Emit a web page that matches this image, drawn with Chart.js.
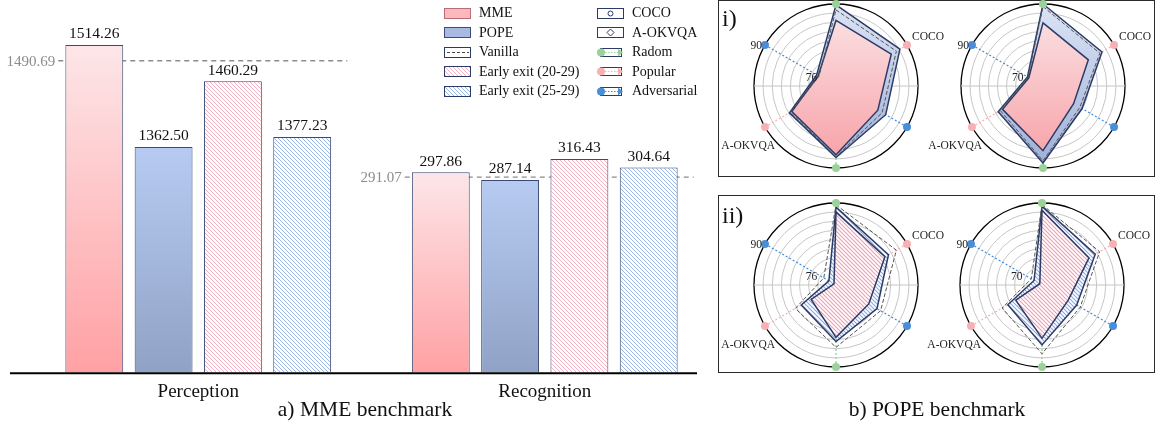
<!DOCTYPE html>
<html>
<head>
<meta charset="utf-8">
<title>MME / POPE benchmark</title>
<script src="https://cdn.jsdelivr.net/npm/chart.js@4.4.1/dist/chart.umd.min.js"></script>
<style>
  body { margin: 0; width: 1156px; height: 427px; overflow: hidden; background: #fff;
         font-family: 'Liberation Serif', 'Times New Roman', serif; position: relative; color: #111; }
  canvas { position: absolute; }
  .panel { position: absolute; border: 1.5px solid #2b2b2b; box-sizing: border-box; }
  .tag { position: absolute; font-size: 24px; line-height: 1; }
  .title { position: absolute; font-size: 21.5px; line-height: 1; white-space: nowrap; transform: translateX(-50%); }
  .legend { position: absolute; left: 443px; top: 3px; width: 270px; height: 100px; font-size: 14px; }
  .legend .item { position: absolute; display: flex; align-items: center; height: 20px; white-space: nowrap; }
  .legend svg { margin-right: 8px; }
</style>
</head>
<body>
<canvas id="barChart" width="720" height="411" style="left:0;top:0"></canvas>
<div class="legend" id="legend"></div>

<div class="panel" style="left:718px;top:0;width:437px;height:177px"></div>
<div class="panel" style="left:718px;top:195px;width:437px;height:178px"></div>
<canvas id="radarI1" width="240" height="180" style="left:716px;top:-4px"></canvas>
<canvas id="radarI2" width="240" height="180" style="left:923px;top:-4px"></canvas>
<canvas id="radarII1" width="240" height="180" style="left:716px;top:195px"></canvas>
<canvas id="radarII2" width="240" height="180" style="left:922px;top:195px"></canvas>
<div class="tag" style="left:722px;top:6px">i)</div>
<div class="tag" style="left:722px;top:203px">ii)</div>

<div class="title" style="left:365px;top:399px">a) MME benchmark</div>
<div class="title" style="left:937px;top:399px">b) POPE benchmark</div>

<script>
// ---- data ----
const groups = ['Perception', 'Recognition'];
const seriesNames = ['MME', 'POPE', 'Early exit (20-29)', 'Early exit (25-29)'];
const perception = [1514.26, 1362.50, 1460.29, 1377.23];
const recognition = [297.86, 287.14, 316.43, 304.64];
const vanillaRef = [1490.69, 291.07];

const radarAxes = ['COCO Radom', 'COCO Popular', 'COCO Adversarial',
                   'A-OKVQA Radom', 'A-OKVQA Popular', 'A-OKVQA Adversarial'];
const datasetNames = ['COCO', 'A-OKVQA'];
const splitNames = ['Radom', 'Popular', 'Adversarial'];
const spokeEnds = [90, 90, 90, 90, 90, 90];
const radarMins = [72, 64, 72, 64];
const radarMarks = [76, 70, 76, 70];

// panel i) MME vs POPE
const vanillaI1 = [88.7, 87.3, 83.7, 87.5, 83.5, 76.3];
const mmeI1 = [86.4, 86.0, 82.6, 87.1, 83.2, 76.5];
const popeI1 = [89.8, 88.2, 84.6, 87.7, 83.8, 76.9];
const vanillaI2 = [89.2, 84.8, 77.5, 87.7, 79.6, 69.5];
const mmeI2 = [84.0, 80.6, 75.2, 84.5, 78.8, 69.2];
const popeI2 = [90.0, 85.6, 78.3, 88.4, 80.4, 69.7];
// panel ii) early exit
const vanillaII1 = [89.6, 87.3, 83.3, 85.7, 82.3, 75.1];
const ee20II1 = [88.0, 84.4, 80.3, 83.5, 78.3, 72.5];
const ee25II1 = [89.1, 85.3, 82.4, 84.4, 80.8, 73.8];
const vanillaII2 = [89.5, 85.1, 78.0, 85.8, 78.6, 67.9];
const ee20II2 = [87.7, 81.2, 73.6, 80.9, 73.6, 64.8];
const ee25II2 = [89.0, 83.5, 76.7, 83.0, 76.5, 66.9];

const NAVY = '#2c3b66';
const SPOKE_COLORS = ['#9ad29a', '#f7b1b4', '#4a8ed8', '#9ad29a', '#f7b1b4', '#4a8ed8'];
const SERIF = "'Liberation Serif', 'Times New Roman', serif";
const PINK_HATCH = '#f4b3c3';
const BLUE_HATCH = '#9bb7e8';
const PINK_STROKE = '#ef9cb4';
const BLUE_STROKE = '#86a8e6';

Chart.defaults.font.family = SERIF;
Chart.defaults.color = '#111';

// ---- fills ----
function hatchTile(color, size) {
    const t = document.createElement('canvas');
    t.width = size; t.height = size;
    const g = t.getContext('2d');
    g.fillStyle = '#fff';
    g.fillRect(0, 0, size, size);
    g.strokeStyle = color;
    g.lineWidth = 1;
    g.beginPath();
    for (let k = -size; k <= size; k += size) {
        g.moveTo(k - 1, -1);
        g.lineTo(k + size + 1, size + 1);
    }
    g.stroke();
    return t;
}
const pinkTile = hatchTile(PINK_HATCH, 4);
const blueTile = hatchTile(BLUE_HATCH, 4);

function hatch(tile) {
    return c => c.chart.ctx.createPattern(tile, 'repeat');
}

function barGradient(topColor, bottomColor) {
    return c => {
        const chart = c.chart;
        if (!chart.chartArea || c.raw == null) return bottomColor;
        const scale = chart.scales[c.dataset.yAxisID];
        const g = chart.ctx.createLinearGradient(0, scale.getPixelForValue(c.raw), 0, scale.getPixelForValue(scale.min));
        g.addColorStop(0, topColor);
        g.addColorStop(1, bottomColor);
        return g;
    };
}

function areaGradient(topColor, bottomColor) {
    return c => {
        const ca = c.chart.chartArea;
        if (!ca) return bottomColor;
        const g = c.chart.ctx.createLinearGradient(0, ca.top, 0, ca.bottom);
        g.addColorStop(0, topColor);
        g.addColorStop(1, bottomColor);
        return g;
    };
}

// ---- bar chart ----
const barFills = [
    barGradient('#fde6e8', '#ffa1a4'),
    barGradient('#b7caf1', '#90a3c6'),
    hatch(pinkTile),
    hatch(blueTile)
];

const barDatasets = [];
[perception, recognition].forEach((values, g) => {
    values.forEach((v, s) => {
        barDatasets.push({
            label: seriesNames[s],
            data: g === 0 ? [v, null] : [null, v],
            yAxisID: g === 0 ? 'y' : 'y2',
            backgroundColor: barFills[s],
            borderColor: '#3a4a74',
            borderWidth: 1,
            skipNull: true,
            categoryPercentage: 0.8,
            barPercentage: 0.835
        });
    });
});

// dashed "vanilla" reference lines, drawn behind the bars
const refLines = {
    id: 'refLines',
    beforeDatasetsDraw(chart) {
        const { ctx, scales } = chart;
        const x = scales.x;
        const cw = (x.right - x.left) / groups.length;
        ctx.save();
        ctx.strokeStyle = '#8c8c8c';
        ctx.fillStyle = '#8c8c8c';
        ctx.lineWidth = 1.3;
        ctx.setLineDash([5, 4]);
        ctx.font = '15px ' + SERIF;
        ctx.textAlign = 'right';
        ctx.textBaseline = 'middle';
        vanillaRef.forEach((v, i) => {
            const y = scales[i === 0 ? 'y' : 'y2'].getPixelForValue(v);
            const cx = x.getPixelForValue(i);
            const x0 = cx - 0.404 * cw;
            const x1 = cx + 0.43 * cw;
            ctx.beginPath();
            ctx.moveTo(x0, y);
            ctx.lineTo(x1, y);
            ctx.stroke();
            ctx.fillText(v.toFixed(2), x0 - 3, y + 1);
        });
        ctx.restore();
    }
};

// numbers on top of the bars + the black base line
const barLabels = {
    id: 'barLabels',
    afterDatasetsDraw(chart) {
        const ctx = chart.ctx;
        ctx.save();
        ctx.font = '15.5px ' + SERIF;
        ctx.fillStyle = '#111';
        ctx.textAlign = 'center';
        ctx.textBaseline = 'bottom';
        chart.data.datasets.forEach((ds, i) => {
            chart.getDatasetMeta(i).data.forEach((bar, j) => {
                if (ds.data[j] == null) return;
                ctx.fillText(ds.data[j].toFixed(2), bar.x, bar.y - 3);
            });
        });
        const yb = chart.chartArea.bottom + 1;
        ctx.strokeStyle = '#000';
        ctx.lineWidth = 2;
        ctx.beginPath();
        ctx.moveTo(10, yb);
        ctx.lineTo(697, yb);
        ctx.stroke();
        ctx.restore();
    }
};

new Chart(document.getElementById('barChart'), {
    type: 'bar',
    data: { labels: groups, datasets: barDatasets },
    options: {
        responsive: false,
        animation: false,
        layout: { padding: { left: 25, right: 2, top: 20, bottom: 0 } },
        plugins: { legend: { display: false }, tooltip: { enabled: false } },
        scales: {
            x: {
                grid: { display: false, drawTicks: false },
                border: { display: false },
                ticks: { color: '#111', font: { size: 19 }, padding: 8 }
            },
            y: { type: 'linear', display: false, min: 1027.6, max: 1551.3, beginAtZero: false },
            y2: { type: 'linear', display: false, min: 18.4, max: 510.7, beginAtZero: false }
        }
    },
    plugins: [refLines, barLabels]
});

// ---- radar charts ----
// hatched polygons for panel ii): white fill clipped to the polygon, then diagonal strokes
const radarHatch = {
    id: 'radarHatch',
    beforeDatasetDraw(chart, args) {
        const ds = chart.data.datasets[args.index];
        if (!ds.hatchColor) return;
        const ctx = chart.ctx;
        ctx.save();
        ctx.setLineDash([]);
        ctx.beginPath();
        args.meta.data.forEach((p, i) => i ? ctx.lineTo(p.x, p.y) : ctx.moveTo(p.x, p.y));
        ctx.closePath();
        ctx.fillStyle = '#fff';
        ctx.fill();
        ctx.clip();
        ctx.strokeStyle = ds.hatchColor;
        ctx.lineWidth = 1.1;
        ctx.beginPath();
        for (let k = -chart.height; k < chart.width; k += 4) {
            ctx.moveTo(k, 0);
            ctx.lineTo(k + chart.height, chart.height);
        }
        ctx.stroke();
        ctx.restore();
    }
};

const radarExtras = {
    id: 'radarExtras',
    beforeDatasetsDraw(chart) {
        const r = chart.scales.r;
        const ctx = chart.ctx;
        ctx.save();
        ctx.setLineDash([]);
        ctx.strokeStyle = '#c4c4c4';
        ctx.lineWidth = 1;
        ctx.beginPath();
        ctx.moveTo(r.xCenter - r.drawingArea, r.yCenter);
        ctx.lineTo(r.xCenter + r.drawingArea, r.yCenter);
        ctx.stroke();
        ctx.restore();
    },
    afterDatasetsDraw(chart, args, opts) {
        const r = chart.scales.r;
        const ctx = chart.ctx;
        ctx.save();
        ctx.fillStyle = '#222';
        ctx.font = '11.5px ' + SERIF;
        ctx.textBaseline = 'middle';
        ctx.textAlign = 'right';
        opts.marks.forEach(v => {
            const p = r.getPointPositionForValue(5, v);
            ctx.fillText(String(v), p.x - 3, p.y + 1);
        });
        const coco = r.getPointPositionForValue(1, r.max);
        ctx.textAlign = 'left';
        ctx.fillText(datasetNames[0], coco.x + 5, coco.y - 8);
        const okvqa = r.getPointPositionForValue(4, r.max);
        ctx.textAlign = 'right';
        ctx.fillText(datasetNames[1], okvqa.x + 10, okvqa.y + 19);
        ctx.restore();
    }
};

// style = {innerFill, outerFill} for gradients, or {innerHatch, outerHatch} for stripes
function makeRadar(id, min, mark, vanilla, inner, outer, style) {
    const area = (data, fill, hatchColor) => ({
        data: data,
        fill: fill ? 'start' : false,
        backgroundColor: fill || 'transparent',
        hatchColor: hatchColor,
        borderColor: NAVY,
        borderWidth: 1.5,
        pointRadius: 0
    });
    return new Chart(document.getElementById(id), {
        type: 'radar',
        data: {
            labels: radarAxes,
            datasets: [
                { label: 'ends', data: spokeEnds, showLine: false, fill: false, clip: false,
                  pointRadius: 4, pointBorderWidth: 0, pointBackgroundColor: SPOKE_COLORS },
                { label: 'Vanilla', data: vanilla, fill: false, borderColor: '#555',
                  borderWidth: 1, borderDash: [4, 2], pointRadius: 0 },
                area(inner, style.innerFill, style.innerHatch),
                area(outer, style.outerFill, style.outerHatch)
            ]
        },
        options: {
            responsive: false,
            animation: false,
            layout: { padding: 8 },
            elements: { line: { tension: 0 } },
            plugins: { legend: { display: false }, tooltip: { enabled: false }, radarExtras: { marks: [mark, 90] } },
            scales: {
                r: {
                    min: min,
                    max: 90,
                    ticks: { display: false, count: 10 },
                    pointLabels: { display: false },
                    grid: {
                        circular: true,
                        color: c => c.index === 9 ? '#000' : '#c6c6c6',
                        lineWidth: c => c.index === 9 ? 1.3 : 1
                    },
                    angleLines: {
                        color: c => SPOKE_COLORS[c.index],
                        lineWidth: 1.4,
                        borderDash: [2, 2]
                    }
                }
            }
        },
        plugins: [radarHatch, radarExtras]
    });
}

const gradientStyle = {
    innerFill: areaGradient('#fbe5e7', '#f79fa5'),
    outerFill: areaGradient('#dbe3f5', '#9eafd7')
};
const hatchStyle = { innerHatch: PINK_STROKE, outerHatch: BLUE_STROKE };
makeRadar('radarI1', radarMins[0], radarMarks[0], vanillaI1, mmeI1, popeI1, gradientStyle);
makeRadar('radarI2', radarMins[1], radarMarks[1], vanillaI2, mmeI2, popeI2, gradientStyle);
makeRadar('radarII1', radarMins[2], radarMarks[2], vanillaII1, ee20II1, ee25II1, hatchStyle);
makeRadar('radarII2', radarMins[3], radarMarks[3], vanillaII2, ee20II2, ee25II2, hatchStyle);

// ---- legend (html + small svg swatches) ----
function swatch(inner, defs) {
    return '<svg width="27" height="11" viewBox="0 0 27 11">' + (defs || '') + inner + '</svg>';
}
function hatchDef(id, color) {
    return '<defs><pattern id="' + id + '" width="4" height="4" patternUnits="userSpaceOnUse">' +
        '<rect width="4" height="4" fill="#fff"/><path d="M-1,-1 L5,5 M-1,3 L1,5 M3,-1 L5,1" stroke="' + color + '" stroke-width="1"/></pattern></defs>';
}
const box = (fill, stroke) => '<rect x="0.5" y="0.5" width="26" height="10" fill="' + fill + '" stroke="' + stroke + '"/>';
function splitSwatch(color) {
    return swatch('<rect x="3.5" y="1.5" width="21" height="8" fill="#fff" stroke="' + NAVY + '"/>' +
        '<line x1="5" y1="5.5" x2="22" y2="5.5" stroke="' + color + '" stroke-dasharray="1.5 1.5" stroke-width="1.2"/>' +
        '<circle cx="4" cy="5.5" r="4" fill="' + color + '"/>' +
        '<path d="M21,1.5 L26,5.5 L21,9.5 Z" fill="' + color + '"/>');
}

const legendItems = [
    [seriesNames[0], swatch(box('#fcb9bc', '#b86d78'))],
    [seriesNames[1], swatch(box('#a8bae2', '#3d4c7a'))],
    ['Vanilla', swatch(box('#fff', NAVY) + '<line x1="3" y1="5.5" x2="25" y2="5.5" stroke="#444" stroke-dasharray="3 2"/>')],
    [seriesNames[2], swatch(box('url(#lgp)', NAVY), hatchDef('lgp', PINK_HATCH))],
    [seriesNames[3], swatch(box('url(#lgb)', NAVY), hatchDef('lgb', BLUE_HATCH))],
    [datasetNames[0], swatch(box('#fff', NAVY) + '<circle cx="13.5" cy="5.5" r="2.5" fill="#fff" stroke="' + NAVY + '"/>')],
    [datasetNames[1], swatch(box('#fff', NAVY) + '<path d="M13.5,2 L17,5.5 L13.5,9 L10,5.5 Z" fill="#fff" stroke="' + NAVY + '"/>')],
    [splitNames[0], splitSwatch('#9ad29a')],
    [splitNames[1], splitSwatch('#f7b1b4')],
    [splitNames[2], splitSwatch('#4a8ed8')]
];

const legend = document.getElementById('legend');
legendItems.forEach(([name, svg], i) => {
    const col = Math.floor(i / 5);
    const row = i % 5;
    const el = document.createElement('div');
    el.className = 'item';
    el.style.left = (col === 0 ? 1 : 154) + 'px';
    el.style.top = (row * 19.6) + 'px';
    el.innerHTML = svg + '<span>' + name + '</span>';
    legend.appendChild(el);
});
</script>
</body>
</html>
